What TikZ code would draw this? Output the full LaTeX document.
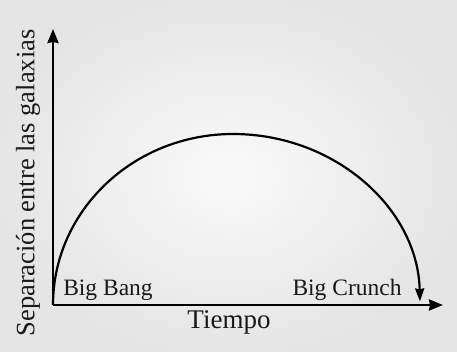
\documentclass[tikz,border=0pt]{standalone}
\usepackage{fontspec}
\setmainfont{Liberation Serif}
\usetikzlibrary{arrows.meta}
\begin{document}
\begin{tikzpicture}[x=1pt,y=1pt,
  axisline/.style={line width=2.6pt,-{Stealth[length=14pt,width=11pt,inset=1pt]}},
  curveline/.style={line width=2.2pt,-{Stealth[length=13pt,width=9pt,inset=1pt]}},
  lbl/.style={inner sep=0pt,text=black!90}]
\shade[inner color=white!96!gray,outer color=gray!20] (0,0) rectangle (457,351);
\useasboundingbox (0,0) rectangle (457,351);
\coordinate (O) at (53,46);
\coordinate (ytip) at (53,322);
\coordinate (xtip) at (443,46);
\draw[axisline] (O) -- (ytip);
\draw[axisline] (O) -- (xtip);
\draw[curveline] (O) arc[start angle=180,end angle=90,x radius=180,y radius=171]
  arc[start angle=90,end angle=1.2,x radius=187,y radius=171];
\node[lbl,font=\fontsize{27}{30}\selectfont] (tiempo) at (229,29) {Tiempo};
\node[lbl,font=\fontsize{23.5}{26}\selectfont] (bang) at (108,61) {Big Bang};
\node[lbl,font=\fontsize{23.5}{26}\selectfont] (crunch) at (347,61) {Big Crunch};
\node[lbl,font=\fontsize{26.5}{29}\selectfont,rotate=90] (sep) at (28,168) {Separación entre las galaxias};
\end{tikzpicture}
\end{document}
